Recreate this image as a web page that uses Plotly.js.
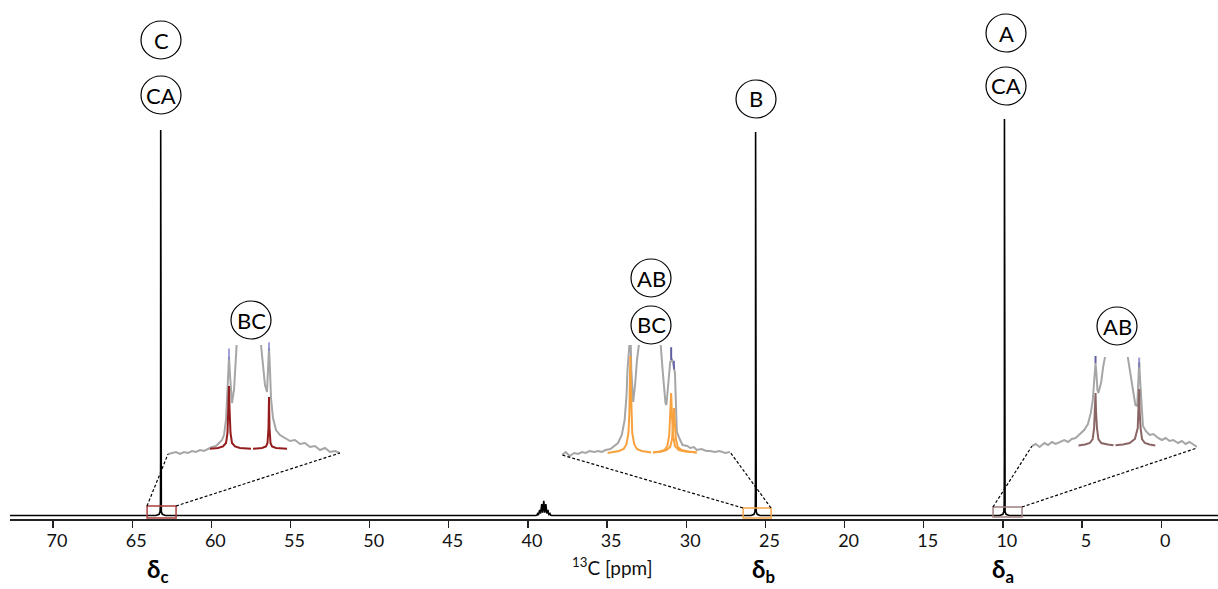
<!DOCTYPE html>
<html>
<head>
<meta charset="utf-8">
<script src="https://cdn.plot.ly/plotly-3.0.1.min.js"></script>
<style>html,body{margin:0;padding:0;background:#fff;}#chart{width:1218px;height:589px;}</style>
</head>
<body>
<div id="chart"></div>
<script>
// ---------- DATA ----------
// main 13C spectrum (ppm, intensity)
const mainPpm = [72.72, 63.5, 63.3, 63.24, 63.215, 63.205, 63.2, 63.195, 63.185, 63.16, 63.1, 62.9,
  39.5, 39.42, 39.39, 39.33, 39.26, 39.2, 39.13, 39.07, 39.0, 38.94, 38.87, 38.81, 38.74, 38.68, 38.61, 38.58, 38.5,
  25.9, 25.72, 25.66, 25.635, 25.625, 25.62, 25.615, 25.605, 25.58, 25.52, 25.35,
  10.2, 10.0, 9.94, 9.915, 9.905, 9.9, 9.895, 9.885, 9.86, 9.8, 9.6, -3.59];
const mainInt = [0, 0, 0.3, 1, 3, 15, 97.2, 15, 3, 1, 0.3, 0,
  0, 0.1, 0.5, 0.3, 1.4, 0.5, 2.9, 0.7, 3.7, 0.7, 2.9, 0.5, 1.4, 0.3, 0.5, 0.1, 0,
  0, 0.3, 1, 3, 15, 96.7, 15, 3, 1, 0.3, 0,
  0, 0.3, 1, 3, 15, 100, 15, 3, 1, 0.3, 0, 0];

// zoom C (around 63.2 ppm)
const grayCPpm = [64.02, 63.98, 63.94, 63.90, 63.86, 63.82, 63.78, 63.74, 63.70, 63.66, 63.62, 63.58, 63.54, 63.51, 63.48, 63.46, 63.44, 63.43, 63.42, 63.41, 63.40, 63.39, 63.38, 63.36, 63.34, 63.32, 63.28, 63.20, 63.12, 63.09, 63.07, 63.05, 63.03, 63.02, 63.01, 63.00, 62.99, 62.97, 62.94, 62.90, 62.85, 62.80, 62.75, 62.70, 62.65, 62.60, 62.55, 62.50, 62.45, 62.40, 62.35, 62.30];
const grayCInt = [-1, 0, 1, -1, 1, 0, 2, 1, 3, 2, 4, 6, 7, 10, 13, 18, 33, 53, 78, 96, 78, 58, 50, 63, 88, 108, 200, 1500, 200, 108, 88, 68, 61, 78, 105, 83, 55, 35, 23, 18, 15, 12, 13, 9, 10, 6, 7, 3, 5, 1, 2, 0];
const fitC1Ppm = [63.60, 63.52, 63.47, 63.44, 63.425, 63.415, 63.41, 63.405, 63.395, 63.38, 63.35, 63.30, 63.19];
const fitC1Int = [4.3, 5, 6.5, 10, 20, 45, 67, 45, 20, 10, 6.5, 5, 4.2];
const fitC2Ppm = [63.17, 63.08, 63.04, 63.025, 63.015, 63.01, 63.005, 62.995, 62.98, 62.94, 62.83];
const fitC2Int = [4.2, 5, 6.5, 10, 25, 56, 25, 10, 6.5, 5, 4.2];
const pickCPpm = [63.41, 63.01];
const pickCInt = [99, 106.5];

// zoom B (around 25.6 ppm)
const grayBPpm = [26.55, 26.51, 26.47, 26.42, 26.38, 26.34, 26.30, 26.26, 26.21, 26.17, 26.13, 26.09, 26.04, 26.00, 25.96, 25.92, 25.89, 25.87, 25.86, 25.84, 25.83, 25.82, 25.81, 25.80, 25.78, 25.76, 25.74, 25.71, 25.62, 25.54, 25.51, 25.49, 25.47, 25.46, 25.45, 25.43, 25.41, 25.39, 25.38, 25.36, 25.35, 25.34, 25.31, 25.28, 25.23, 25.20, 25.16, 25.13, 25.08, 25.03, 24.99, 24.94, 24.89, 24.83, 24.78];
const grayBInt = [-2, 1, -3, 0, -1, 1, 0, 2, 1, 2, 1, 3, 4, 7, 10, 18, 33, 58, 83, 108, 130, 83, 58, 51, 68, 93, 108, 200, 1500, 200, 108, 83, 58, 50, 48, 73, 91, 93, 90, 80, 50, 21, 14, 8, 7, 5, 6, 3, 4, 2, 2, 1, 2, 0, 1];
const fitB1Ppm = [26.07, 26.00, 25.95, 25.90, 25.87, 25.85, 25.84, 25.835, 25.83, 25.825, 25.82, 25.81, 25.79, 25.76, 25.71, 25.65, 25.61];
const fitB1Int = [0, 1, 2, 4, 9, 20, 40, 70, 97, 70, 40, 20, 9, 4, 2, 1, 0.5];
const fitB2Ppm = [25.59, 25.52, 25.47, 25.44, 25.42, 25.41, 25.40, 25.39, 25.38, 25.36, 25.32, 25.25, 25.13];
const fitB2Int = [0.5, 1.5, 3, 7, 18, 35, 60, 35, 18, 7, 3, 1.5, 0.5];
const fitB3Ppm = [25.59, 25.50, 25.45, 25.41, 25.39, 25.38, 25.37, 25.36, 25.35, 25.33, 25.29, 25.22, 25.13];
const fitB3Int = [0.5, 1.5, 3, 6, 14, 28, 45, 28, 14, 6, 3, 1.5, 0.5];
const pickBPpm = [25.40, 25.37];
const pickBInt = [99.5, 88];

// zoom A (around 9.9 ppm)
const grayAPpm = [10.78, 10.74, 10.70, 10.65, 10.61, 10.57, 10.53, 10.49, 10.44, 10.40, 10.36, 10.32, 10.27, 10.23, 10.19, 10.16, 10.14, 10.13, 10.12, 10.11, 10.10, 10.09, 10.08, 10.05, 10.03, 10.01, 9.98, 9.90, 9.81, 9.77, 9.74, 9.71, 9.69, 9.67, 9.66, 9.65, 9.64, 9.63, 9.61, 9.58, 9.54, 9.50, 9.45, 9.41, 9.37, 9.33, 9.29, 9.24, 9.20, 9.16, 9.12, 9.07, 9.04];
const grayAInt = [0, 2, -1, 3, 1, 4, 2, 4, 6, 4, 7, 8, 12, 16, 22, 33, 45, 60, 72, 83, 72, 56, 53, 64, 79, 89, 170, 1500, 170, 89, 71, 51, 41, 40, 62, 84, 66, 46, 20, 15, 11, 12, 8, 6, 8, 5, 6, 3, 5, 2, 4, 1, -1];
const fitA1Ppm = [10.29, 10.22, 10.17, 10.14, 10.125, 10.115, 10.11, 10.105, 10.095, 10.08, 10.05, 9.98, 9.92];
const fitA1Int = [0.5, 1.5, 3, 7, 18, 35, 53, 35, 18, 7, 3, 1.5, 0.8];
const fitA2Ppm = [9.90, 9.82, 9.75, 9.695, 9.665, 9.655, 9.65, 9.645, 9.635, 9.62, 9.59, 9.54, 9.48];
const fitA2Int = [0.8, 1.5, 3, 7, 18, 35, 57, 35, 18, 7, 3, 1.5, 0.5];
const pickAPpm = [10.11, 9.65];
const pickAInt = [86.5, 83.5];

// labels
const circleLabels = ["C", "CA", "A", "CA", "B", "BC", "AB", "BC", "AB"];
const deltaLabels = ["δ<sub>c</sub>", "δ<sub>b</sub>", "δ<sub>a</sub>"];
const axisTitle = "<sup>13</sup>C [ppm]";

// ---------- LAYOUT HELPERS ----------
const PL = 10, PT = 0, PW = 1208, PH = 519;
const px = v => (v - PL) / PW;
const py = v => (PH + PT - v) / PH;
const FONT = "Lato, 'Open Sans', sans-serif";

const grayLine = {color: '#a6a6a6', width: 2};
const traces = [
  {x: mainPpm, y: mainInt, type: 'scatter', mode: 'lines', line: {color: '#000', width: 1.6}, xaxis: 'x', yaxis: 'y', hoverinfo: 'skip'},
  // C inset
  {x: grayCPpm, y: grayCInt, mode: 'lines', line: grayLine, xaxis: 'x2', yaxis: 'y2'},
  {x: fitC1Ppm, y: fitC1Int, mode: 'lines', line: {color: '#951c1c', width: 2}, xaxis: 'x2', yaxis: 'y2'},
  {x: fitC2Ppm, y: fitC2Int, mode: 'lines', line: {color: '#951c1c', width: 2}, xaxis: 'x2', yaxis: 'y2'},
  {x: pickCPpm, y: pickCInt, mode: 'markers', cliponaxis: false, marker: {symbol: 'line-ns-open', size: [8, 6], color: ['#7b7bd0', '#7b7bd0'], line: {width: 2}}, xaxis: 'x2', yaxis: 'y2'},
  // B inset
  {x: grayBPpm, y: grayBInt, mode: 'lines', line: grayLine, xaxis: 'x3', yaxis: 'y3'},
  {x: fitB1Ppm, y: fitB1Int, mode: 'lines', line: {color: '#f7a23e', width: 2}, xaxis: 'x3', yaxis: 'y3'},
  {x: fitB2Ppm, y: fitB2Int, mode: 'lines', line: {color: '#f7a23e', width: 2}, xaxis: 'x3', yaxis: 'y3'},
  {x: fitB3Ppm, y: fitB3Int, mode: 'lines', line: {color: '#f7a23e', width: 2}, xaxis: 'x3', yaxis: 'y3'},
  {x: pickBPpm, y: pickBInt, mode: 'markers', cliponaxis: false, marker: {symbol: 'line-ns-open', size: [9, 6], color: ['#1c1c7a', '#4a4ab0'], line: {width: 2}}, xaxis: 'x3', yaxis: 'y3'},
  // A inset
  {x: grayAPpm, y: grayAInt, mode: 'lines', line: grayLine, xaxis: 'x4', yaxis: 'y4'},
  {x: fitA1Ppm, y: fitA1Int, mode: 'lines', line: {color: '#8a6565', width: 2}, xaxis: 'x4', yaxis: 'y4'},
  {x: fitA2Ppm, y: fitA2Int, mode: 'lines', line: {color: '#8a6565', width: 2}, xaxis: 'x4', yaxis: 'y4'},
  {x: pickAPpm, y: pickAInt, mode: 'markers', cliponaxis: false, marker: {symbol: 'line-ns-open', size: [5, 7], color: ['#1c1c7a', '#7070c0'], line: {width: 2}}, xaxis: 'x4', yaxis: 'y4'}
].map(t => Object.assign({type: 'scatter', showlegend: false, hoverinfo: 'skip'}, t));

const hidden = {visible: false, fixedrange: true};
const layout = {
  width: 1218, height: 589,
  margin: {l: PL, r: 0, t: PT, b: 70},
  paper_bgcolor: '#fff', plot_bgcolor: 'rgba(0,0,0,0)',
  showlegend: false,
  font: {family: FONT, color: '#000'},
  xaxis: {range: [72.72, -3.59], showgrid: false, zeroline: false, showline: true, linecolor: '#222', linewidth: 1.5,
    ticks: 'outside', ticklen: 7, tickwidth: 1.3, tickcolor: '#222', dtick: 5, tick0: 0,
    tickfont: {family: FONT, size: 18, color: '#111'}, ticklabelshift: -4, ticklabelstandoff: -2},
  yaxis: {range: [-0.883, 130.0], visible: false, fixedrange: true},
  xaxis2: Object.assign({domain: [px(168), px(340)], range: [64.02, 62.30], anchor: 'y2'}, hidden),
  yaxis2: Object.assign({domain: [py(460), py(345)], range: [-7, 108], anchor: 'x2'}, hidden),
  xaxis3: Object.assign({domain: [px(562), px(730)], range: [26.55, 24.78], anchor: 'y3'}, hidden),
  yaxis3: Object.assign({domain: [py(460), py(345)], range: [-7, 108], anchor: 'x3'}, hidden),
  xaxis4: Object.assign({domain: [px(1032), px(1197)], range: [10.78, 9.04], anchor: 'y4'}, hidden),
  yaxis4: Object.assign({domain: [py(453), py(357)], range: [-7, 89], anchor: 'x4'}, hidden),
  shapes: [],
  annotations: []
};

// zoom rectangles on the main axis
const rects = [
  {x0: 64.06, x1: 62.23, y0: -0.63, y1: 2.4, c: '#a8403f'},
  {x0: 26.41, x1: 24.64, y0: -0.63, y1: 1.89, c: '#f5a548'},
  {x0: 10.62, x1: 8.79, y0: -0.38, y1: 2.14, c: '#9f8080'}
];
rects.forEach(r => layout.shapes.push({type: 'rect', xref: 'x', yref: 'y', x0: r.x0, x1: r.x1, y0: r.y0, y1: r.y1, line: {color: r.c, width: 1.5}}));

// dashed connectors (pixel positions)
const connectors = [
  [147, 506, 168, 454], [176, 506, 340, 453],
  [743, 508, 562, 455], [771, 508, 730, 452],
  [993, 507, 1032, 446], [1022, 507, 1197, 448]
];
connectors.forEach(c => layout.shapes.push({type: 'line', xref: 'paper', yref: 'paper', x0: px(c[0]), y0: py(c[1]), x1: px(c[2]), y1: py(c[3]), line: {color: '#000', width: 1.2, dash: '3px,2px'}}));

// circled labels (pixel centers)
const circlePos = [[161, 40], [161, 95], [1006, 33], [1006, 86], [756, 99], [251, 320], [651, 278], [651, 325], [1117, 326]];
circlePos.forEach((p, i) => {
  layout.shapes.push({type: 'circle', xref: 'paper', yref: 'paper', xsizemode: 'pixel', ysizemode: 'pixel',
    xanchor: px(p[0]), yanchor: py(p[1]), x0: -20, x1: 20, y0: -19, y1: 19, line: {color: '#000', width: 1.2}, fillcolor: 'rgba(0,0,0,0)'});
  layout.annotations.push({xref: 'paper', yref: 'paper', x: px(p[0]), y: py(p[1]) , text: circleLabels[i], showarrow: false,
    xanchor: 'center', yanchor: 'middle', font: {family: FONT, size: 22, color: '#000'}});
});

// delta labels
const deltaPos = [[158, 570], [763, 570], [1003, 570]];
deltaPos.forEach((p, i) => layout.annotations.push({xref: 'paper', yref: 'paper', x: px(p[0]), y: py(p[1]), text: '<b>' + deltaLabels[i] + '</b>',
  showarrow: false, xanchor: 'center', yanchor: 'middle', font: {family: FONT, size: 24, color: '#000'}}));

layout.annotations.push({xref: 'paper', yref: 'paper', x: px(612), y: py(566), text: axisTitle, showarrow: false,
  xanchor: 'center', yanchor: 'middle', font: {family: FONT, size: 19, color: '#111'}});

Plotly.newPlot('chart', traces, layout, {staticPlot: true, displayModeBar: false});
</script>
</body>
</html>
